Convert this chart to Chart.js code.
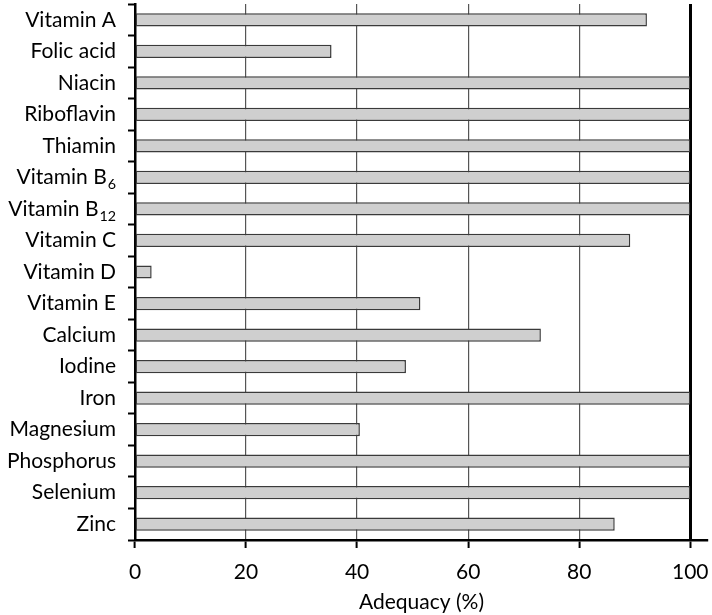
<!DOCTYPE html>
<html>
<head>
<meta charset="utf-8">
<script src="https://cdn.jsdelivr.net/npm/chart.js@4"></script>
<style>
  html, body { margin: 0; padding: 0; background: #fff; }
  #wrap { width: 712px; height: 615px; }
</style>
</head>
<body>
<div id="wrap"><canvas id="adequacyChart" width="712" height="615"></canvas></div>
<script>
// nutrient adequacy ("_" marks a subscript)
const nutrients = ['Vitamin A', 'Folic acid', 'Niacin', 'Riboflavin', 'Thiamin', 'Vitamin B_6', 'Vitamin B_12',
    'Vitamin C', 'Vitamin D', 'Vitamin E', 'Calcium', 'Iodine', 'Iron', 'Magnesium', 'Phosphorus', 'Selenium', 'Zinc'];
const adequacy = [92.2, 35.4, 100, 100, 100, 100, 100, 89.2, 3.0, 51.4, 73.1, 48.8, 100, 40.5, 100, 100, 86.4];
const xTicks = [0, 20, 40, 60, 80, 100];
const xTitle = 'Adequacy (%)';

const FONT = "Lato, 'Open Sans', 'DejaVu Sans', sans-serif";
const LABEL_SIZE = 21;

// y labels drawn by hand so the B vitamins get a real subscript
const subscriptLabels = {
    id: 'subscriptLabels',
    afterDraw(chart) {
        const y = chart.scales.y;
        const ctx = chart.ctx;
        const right = y.right - 7 - 12;
        ctx.save();
        ctx.fillStyle = '#000';
        ctx.textBaseline = 'middle';
        ctx.textAlign = 'left';
        y.ticks.forEach((t, i) => {
            const [main, sub] = String(chart.data.labels[i]).split('_');
            const py = y.getPixelForTick(i);
            ctx.font = `${LABEL_SIZE}px ${FONT}`;
            const wMain = ctx.measureText(main).width;
            let wSub = 0;
            if (sub) {
                ctx.font = `${LABEL_SIZE * 0.68}px ${FONT}`;
                wSub = ctx.measureText(sub).width + 1;
            }
            const x0 = right - wMain - wSub;
            ctx.font = `${LABEL_SIZE}px ${FONT}`;
            ctx.fillText(main, x0, py);
            if (sub) {
                ctx.font = `${LABEL_SIZE * 0.68}px ${FONT}`;
                ctx.fillText(sub, x0 + wMain + 1, py + 7);
            }
        });
        ctx.restore();
    }
};

new Chart(document.getElementById('adequacyChart').getContext('2d'), {
    type: 'bar',
    data: {
        labels: nutrients,
        datasets: [{
            data: adequacy,
            backgroundColor: '#cfcfcf',
            borderColor: '#3a3a3a',
            borderWidth: 1.5,
            borderSkipped: false,
            barPercentage: 0.42,
            categoryPercentage: 1,
        }]
    },
    options: {
        indexAxis: 'y',
        responsive: false,
        animation: false,
        layout: { padding: { top: 4, right: 4, left: 0, bottom: 0 } },
        plugins: { legend: { display: false }, tooltip: { enabled: false } },
        scales: {
            x: {
                min: 0,
                max: 103.2,
                afterBuildTicks: s => { s.ticks = xTicks.map(v => ({ value: v })); },
                afterFit: s => { s.height = 75; s.paddingRight = 0; s.paddingLeft = 0; },
                ticks: { color: '#000', font: { family: FONT, size: 21 }, padding: 12 },
                grid: {
                    color: c => c.tick && c.tick.value === 100 ? '#000' : '#555',
                    lineWidth: c => c.tick && c.tick.value === 100 ? 3 : 1.2,
                    tickColor: '#000',
                    tickWidth: 2,
                    tickLength: 8,
                },
                border: { color: '#000', width: 2.5 },
                title: {
                    display: true, text: xTitle, color: '#000',
                    font: { family: FONT, size: 21 }, padding: { top: 0, bottom: 0 }
                }
            },
            y: {
                afterFit: s => { s.width = 135; s.paddingTop = 0; s.paddingBottom = 0; },
                ticks: { display: false },
                grid: {
                    offset: true,
                    drawOnChartArea: false,
                    tickColor: '#000',
                    tickWidth: 2,
                    tickLength: 7,
                },
                border: { color: '#000', width: 2.5 }
            }
        }
    },
    plugins: [subscriptLabels]
});
</script>
</body>
</html>
